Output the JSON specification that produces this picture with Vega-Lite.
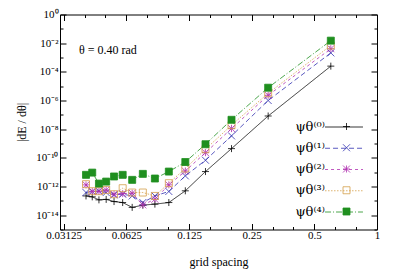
{
  "$schema": "https://vega.github.io/schema/vega-lite/v6.json",
  "width": 317,
  "height": 215,
  "autosize": "none",
  "padding": {"left": 60, "top": 14.5, "right": 22, "bottom": 49.5},
  "background": "white",
  "config": {
    "font": "Liberation Serif",
    "view": {"stroke": null},
    "axis": {
      "labelFont": "Liberation Serif", "labelFontSize": 11, "labelColor": "black",
      "titleFont": "Liberation Serif", "titleFontSize": 12, "titleFontWeight": "normal", "titleColor": "black",
      "domainColor": "black", "domainWidth": 1, "tickColor": "black", "tickWidth": 1,
      "grid": false, "labelFlush": false, "labelOverlap": false, "labelBound": false
    }
  },
  "title": {"text": "θ = 0.40 rad", "anchor": "start", "frame": "group", "orient": "top", "offset": 0, "dx": 19, "dy": 53.5, "baseline": "middle", "fontSize": 12, "fontWeight": "normal", "font": "Liberation Serif", "color": "black"},
  "data": {"values": [
    {"h": 0.6, "series": "ψθ⁽⁰⁾", "v": 2.5e-4}, {"h": 0.3, "series": "ψθ⁽⁰⁾", "v": 8.3e-8}, {"h": 0.2, "series": "ψθ⁽⁰⁾", "v": 4.4e-10}, {"h": 0.15, "series": "ψθ⁽⁰⁾", "v": 1.1e-11}, {"h": 0.12, "series": "ψθ⁽⁰⁾", "v": 5.0e-13}, {"h": 0.1, "series": "ψθ⁽⁰⁾", "v": 7.6e-14}, {"h": 0.085714, "series": "ψθ⁽⁰⁾", "v": 5.9e-14}, {"h": 0.075, "series": "ψθ⁽⁰⁾", "v": 5.0e-14}, {"h": 0.066667, "series": "ψθ⁽⁰⁾", "v": 3.5e-14}, {"h": 0.06, "series": "ψθ⁽⁰⁾", "v": 7.6e-14}, {"h": 0.054545, "series": "ψθ⁽⁰⁾", "v": 8.9e-14}, {"h": 0.05, "series": "ψθ⁽⁰⁾", "v": 1.26e-13}, {"h": 0.046154, "series": "ψθ⁽⁰⁾", "v": 1.17e-13}, {"h": 0.042857, "series": "ψθ⁽⁰⁾", "v": 1.9e-13}, {"h": 0.04, "series": "ψθ⁽⁰⁾", "v": 2.2e-13},
    {"h": 0.6, "series": "ψθ⁽¹⁾", "v": 2.1e-3}, {"h": 0.3, "series": "ψθ⁽¹⁾", "v": 1.0e-6}, {"h": 0.2, "series": "ψθ⁽¹⁾", "v": 3.4e-9}, {"h": 0.15, "series": "ψθ⁽¹⁾", "v": 6.8e-11}, {"h": 0.12, "series": "ψθ⁽¹⁾", "v": 5.5e-12}, {"h": 0.1, "series": "ψθ⁽¹⁾", "v": 4.5e-13}, {"h": 0.085714, "series": "ψθ⁽¹⁾", "v": 2.2e-13}, {"h": 0.075, "series": "ψθ⁽¹⁾", "v": 7.6e-14}, {"h": 0.066667, "series": "ψθ⁽¹⁾", "v": 2.2e-13}, {"h": 0.06, "series": "ψθ⁽¹⁾", "v": 2.9e-13}, {"h": 0.054545, "series": "ψθ⁽¹⁾", "v": 2.6e-13}, {"h": 0.05, "series": "ψθ⁽¹⁾", "v": 3.8e-13}, {"h": 0.046154, "series": "ψθ⁽¹⁾", "v": 5.0e-13}, {"h": 0.042857, "series": "ψθ⁽¹⁾", "v": 4.5e-13}, {"h": 0.04, "series": "ψθ⁽¹⁾", "v": 3.8e-13},
    {"h": 0.6, "series": "ψθ⁽²⁾", "v": 4.1e-3}, {"h": 0.3, "series": "ψθ⁽²⁾", "v": 2.3e-6}, {"h": 0.2, "series": "ψθ⁽²⁾", "v": 1.1e-8}, {"h": 0.15, "series": "ψθ⁽²⁾", "v": 2.3e-10}, {"h": 0.12, "series": "ψθ⁽²⁾", "v": 1.2e-11}, {"h": 0.1, "series": "ψθ⁽²⁾", "v": 1.3e-12}, {"h": 0.085714, "series": "ψθ⁽²⁾", "v": 1.3e-13}, {"h": 0.075, "series": "ψθ⁽²⁾", "v": 5.2e-14}, {"h": 0.066667, "series": "ψθ⁽²⁾", "v": 3.4e-13}, {"h": 0.06, "series": "ψθ⁽²⁾", "v": 3.2e-13}, {"h": 0.054545, "series": "ψθ⁽²⁾", "v": 2.9e-13}, {"h": 0.05, "series": "ψθ⁽²⁾", "v": 5.8e-13}, {"h": 0.046154, "series": "ψθ⁽²⁾", "v": 4.5e-13}, {"h": 0.042857, "series": "ψθ⁽²⁾", "v": 4.5e-13}, {"h": 0.04, "series": "ψθ⁽²⁾", "v": 1.3e-12},
    {"h": 0.6, "series": "ψθ⁽³⁾", "v": 6.9e-3}, {"h": 0.3, "series": "ψθ⁽³⁾", "v": 3.2e-6}, {"h": 0.2, "series": "ψθ⁽³⁾", "v": 1.9e-8}, {"h": 0.15, "series": "ψθ⁽³⁾", "v": 4.0e-10}, {"h": 0.12, "series": "ψθ⁽³⁾", "v": 1.8e-11}, {"h": 0.1, "series": "ψθ⁽³⁾", "v": 1.7e-12}, {"h": 0.085714, "series": "ψθ⁽³⁾", "v": 2.2e-13}, {"h": 0.075, "series": "ψθ⁽³⁾", "v": 3.8e-13}, {"h": 0.066667, "series": "ψθ⁽³⁾", "v": 3.8e-13}, {"h": 0.06, "series": "ψθ⁽³⁾", "v": 7.6e-13}, {"h": 0.054545, "series": "ψθ⁽³⁾", "v": 2.9e-13}, {"h": 0.05, "series": "ψθ⁽³⁾", "v": 5.8e-13}, {"h": 0.046154, "series": "ψθ⁽³⁾", "v": 4.7e-13}, {"h": 0.042857, "series": "ψθ⁽³⁾", "v": 4.7e-13}, {"h": 0.04, "series": "ψθ⁽³⁾", "v": 1.45e-12},
    {"h": 0.6, "series": "ψθ⁽⁴⁾", "v": 1.5e-2}, {"h": 0.3, "series": "ψθ⁽⁴⁾", "v": 7.8e-6}, {"h": 0.2, "series": "ψθ⁽⁴⁾", "v": 4.5e-8}, {"h": 0.15, "series": "ψθ⁽⁴⁾", "v": 8.9e-10}, {"h": 0.12, "series": "ψθ⁽⁴⁾", "v": 5.1e-11}, {"h": 0.1, "series": "ψθ⁽⁴⁾", "v": 1.1e-11}, {"h": 0.085714, "series": "ψθ⁽⁴⁾", "v": 3.6e-12}, {"h": 0.075, "series": "ψθ⁽⁴⁾", "v": 7.6e-12}, {"h": 0.066667, "series": "ψθ⁽⁴⁾", "v": 2.9e-12}, {"h": 0.06, "series": "ψθ⁽⁴⁾", "v": 6.5e-12}, {"h": 0.054545, "series": "ψθ⁽⁴⁾", "v": 5.0e-12}, {"h": 0.05, "series": "ψθ⁽⁴⁾", "v": 2.2e-12}, {"h": 0.046154, "series": "ψθ⁽⁴⁾", "v": 1.6e-12}, {"h": 0.042857, "series": "ψθ⁽⁴⁾", "v": 9.3e-12}, {"h": 0.04, "series": "ψθ⁽⁴⁾", "v": 6.5e-12}
  ]},
  "layer": [
    {
      "mark": {"type": "line", "strokeWidth": 0.8},
      "encoding": {
        "x": {"field": "h", "type": "quantitative", "scale": {"type": "log", "domain": [0.03, 1]},
          "axis": {"orient": "bottom", "title": "grid spacing", "titlePadding": 13,
            "values": [0.03125, 0.039373, 0.049606, 0.0625, 0.078745, 0.099213, 0.125, 0.15749, 0.19843, 0.25, 0.31498, 0.39685, 0.5, 0.62996, 0.7937, 1],
            "labelExpr": "abs(log(datum.value)/LN2 - round(log(datum.value)/LN2)) < 0.01 ? format(datum.value, '~g') : ''",
            "tickSize": {"condition": {"test": "abs(log(datum.value)/LN2 - round(log(datum.value)/LN2)) < 0.01", "value": -6}, "value": -3},
            "labelPadding": 6}},
        "y": {"field": "v", "type": "quantitative", "scale": {"type": "log", "domain": [1e-15, 1]},
          "axis": {"orient": "left", "title": "|dE / dθ|", "titlePadding": 7,
            "values": [1e-15, 1e-14, 1e-13, 1e-12, 1e-11, 1e-10, 1e-9, 1e-8, 1e-7, 1e-6, 1e-5, 1e-4, 1e-3, 1e-2, 1e-1, 1],
            "labelExpr": "round(log(datum.value)/LN10) % 2 == 0 ? '10' + ['⁰','⁻¹','⁻²','⁻³','⁻⁴','⁻⁵','⁻⁶','⁻⁷','⁻⁸','⁻⁹','⁻¹⁰','⁻¹¹','⁻¹²','⁻¹³','⁻¹⁴','⁻¹⁵'][-round(log(datum.value)/LN10)] : ''",
            "tickSize": {"condition": {"test": "round(log(datum.value)/LN10) % 2 == 0", "value": -6}, "value": -3},
            "labelPadding": 8}},
        "color": {"field": "series", "type": "nominal",
          "scale": {"domain": ["ψθ⁽⁰⁾", "ψθ⁽¹⁾", "ψθ⁽²⁾", "ψθ⁽³⁾", "ψθ⁽⁴⁾"], "range": ["#000000", "#3030b0", "#b030b0", "#d4a04a", "#1f8f1f"]},
          "legend": {"orient": "none", "legendX": 277, "legendY": 105.5, "title": null, "symbolType": "M-3,0H3", "symbolSize": 160, "symbolStrokeWidth": 0.8, "symbolFillColor": "transparent", "labelExpr": "''", "labelOpacity": 0, "labelOffset": -28, "labelAlign": "right", "labelFontSize": 14, "labelFont": "DejaVu Serif", "rowPadding": 7.25, "padding": 0}},
        "strokeDash": {"field": "series", "type": "nominal",
          "scale": {"domain": ["ψθ⁽⁰⁾", "ψθ⁽¹⁾", "ψθ⁽²⁾", "ψθ⁽³⁾", "ψθ⁽⁴⁾"], "range": [[1, 0], [5, 3], [3, 3], [1.5, 1.5], [6, 2, 1, 2]]},
          "legend": {"orient": "none", "legendX": 277, "legendY": 105.5, "title": null, "symbolType": "M-3,0H3", "symbolSize": 160, "symbolStrokeWidth": 0.8, "symbolFillColor": "transparent", "labelExpr": "''", "labelOpacity": 0, "labelOffset": -28, "labelAlign": "right", "labelFontSize": 14, "labelFont": "DejaVu Serif", "rowPadding": 7.25, "padding": 0}}
      }
    },
    {
      "mark": {"type": "point", "strokeWidth": 0.8, "opacity": 1, "size": 49},
      "encoding": {
        "x": {"field": "h", "type": "quantitative", "scale": {"type": "log", "domain": [0.03, 1]},
          "axis": {"orient": "top", "title": null, "labels": false,
            "values": [0.03125, 0.039373, 0.049606, 0.0625, 0.078745, 0.099213, 0.125, 0.15749, 0.19843, 0.25, 0.31498, 0.39685, 0.5, 0.62996, 0.7937, 1],
            "tickSize": {"condition": {"test": "abs(log(datum.value)/LN2 - round(log(datum.value)/LN2)) < 0.01", "value": -6}, "value": -3}}},
        "y": {"field": "v", "type": "quantitative", "scale": {"type": "log", "domain": [1e-15, 1]},
          "axis": {"orient": "right", "title": null, "labels": false,
            "values": [1e-15, 1e-14, 1e-13, 1e-12, 1e-11, 1e-10, 1e-9, 1e-8, 1e-7, 1e-6, 1e-5, 1e-4, 1e-3, 1e-2, 1e-1, 1],
            "tickSize": {"condition": {"test": "round(log(datum.value)/LN10) % 2 == 0", "value": -6}, "value": -3}}},
        "shape": {"field": "series", "type": "nominal",
          "scale": {"domain": ["ψθ⁽⁰⁾", "ψθ⁽¹⁾", "ψθ⁽²⁾", "ψθ⁽³⁾", "ψθ⁽⁴⁾"], "range": ["M-1,0H1M0,-1V1", "M-1,-1L1,1M-1,1L1,-1", "M-1,0H1M0,-1V1M-1,-1L1,1M-1,1L1,-1", "square", "square"]},
          "legend": {"orient": "none", "legendX": 280, "legendY": 105.5, "title": null, "symbolSize": 49, "symbolStrokeWidth": 0.8, "labelOffset": -28, "labelAlign": "right", "labelFontSize": 13, "labelFont": "DejaVu Serif", "labelColor": "black", "rowPadding": 7.25, "padding": 0}},
        "stroke": {"field": "series", "type": "nominal",
          "scale": {"domain": ["ψθ⁽⁰⁾", "ψθ⁽¹⁾", "ψθ⁽²⁾", "ψθ⁽³⁾", "ψθ⁽⁴⁾"], "range": ["#000000", "#3030b0", "#b030b0", "#d4a04a", "#1f8f1f"]},
          "legend": {"orient": "none", "legendX": 280, "legendY": 105.5, "title": null, "symbolSize": 49, "symbolStrokeWidth": 0.8, "labelOffset": -28, "labelAlign": "right", "labelFontSize": 13, "labelFont": "DejaVu Serif", "labelColor": "black", "rowPadding": 7.25, "padding": 0}},
        "fill": {"field": "series", "type": "nominal",
          "scale": {"domain": ["ψθ⁽⁰⁾", "ψθ⁽¹⁾", "ψθ⁽²⁾", "ψθ⁽³⁾", "ψθ⁽⁴⁾"], "range": ["transparent", "transparent", "transparent", "transparent", "#1f8f1f"]},
          "legend": {"orient": "none", "legendX": 280, "legendY": 105.5, "title": null, "symbolSize": 49, "symbolStrokeWidth": 0.8, "labelOffset": -28, "labelAlign": "right", "labelFontSize": 13, "labelFont": "DejaVu Serif", "labelColor": "black", "rowPadding": 7.25, "padding": 0}}
      }
    }
  ],
  "resolve": {
    "axis": {"x": "independent", "y": "independent"},
    "legend": {"color": "independent", "strokeDash": "independent", "shape": "independent", "stroke": "independent", "fill": "independent"}
  }
}
